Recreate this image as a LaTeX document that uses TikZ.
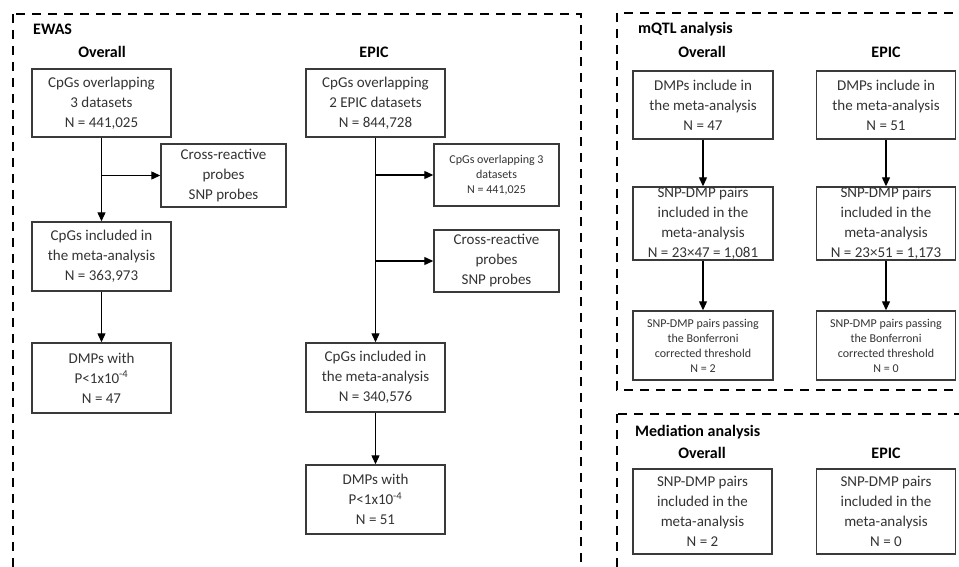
\documentclass[tikz,border=0pt]{standalone}
\usepackage{fontspec}
\setmainfont{Carlito}
\usetikzlibrary{arrows.meta}
\definecolor{boxgray}{HTML}{3A3A3A}
\definecolor{txtgray}{HTML}{333333}
\begin{document}
\begin{tikzpicture}[x=1pt,y=-1pt,
 box/.style={draw=boxgray, line width=1.4pt, text=txtgray, align=center, inner sep=0pt, font=\fontsize{15}{20}\selectfont},
 sbox/.style={box, font=\fontsize{12}{15}\selectfont},
 hdr/.style={font=\fontsize{16}{18}\selectfont\bfseries, text=black, inner sep=0pt},
 arr/.style={draw=black, line width=1.2pt, -{Triangle[length=9pt,width=8pt]}},
 dbox/.style={draw=black, line width=2.6pt, dash pattern=on 9pt off 7pt}]
\useasboundingbox (0,0) rectangle (959,567);
\begin{scope}
\clip (0,0) rectangle (959,567);
\draw[dbox] (13,14) rectangle (581,620);
\draw[dbox] (617,13) rectangle (1000,390);
\draw[dbox] (617,414) rectangle (1000,620);
\end{scope}

% EWAS
\node[hdr, anchor=west] (ewas) at (33,29) {EWAS};
\node[hdr] (hov) at (102,52) {Overall};
\node[hdr] (hep) at (374,52) {EPIC};

\node[box, minimum width=139, minimum height=68] (o1) at (101.5,103) {CpGs overlapping\\3 datasets\\N = 441,025};
\node[box, minimum width=125, minimum height=63] (o2) at (223.5,175.5) {Cross-reactive\\probes\\SNP probes};
\node[box, minimum width=139, minimum height=69] (o3) at (101.5,256.5) {CpGs included in\\the meta-analysis\\N = 363,973};
\node[box, minimum width=139, minimum height=70] (o4) at (101.5,378) {DMPs with\\P<1x10\textsuperscript{-4}\\N = 47};

\draw[arr] (o1.south) -- (o3.north);
\draw[arr] (o1.south |- o2.west) -- (o2.west);
\draw[arr] (o3.south) -- (o4.north);

\node[box, minimum width=139, minimum height=68] (e1) at (375.5,103) {CpGs overlapping\\2 EPIC datasets\\N = 844,728};
\node[sbox, minimum width=125, minimum height=62] (e2) at (496.5,175) {CpGs overlapping 3\\datasets\\N = 441,025};
\node[box, minimum width=125, minimum height=62] (e3) at (496.5,261) {Cross-reactive\\probes\\SNP probes};
\node[box, minimum width=139, minimum height=69] (e4) at (375.5,377.5) {CpGs included in\\the meta-analysis\\N = 340,576};
\node[box, minimum width=139, minimum height=69] (e5) at (375.5,499.5) {DMPs with\\P<1x10\textsuperscript{-4}\\N = 51};

\draw[arr] (e1.south) -- (e4.north);
\draw[arr] (e1.south |- e2.west) -- (e2.west);
\draw[arr] (e1.south |- e3.west) -- (e3.west);
\draw[arr] (e4.south) -- (e5.north);

% mQTL
\node[hdr, anchor=west] (mq) at (638,29) {mQTL analysis};
\node[hdr] (mqo) at (702,52) {Overall};
\node[hdr] (mqe) at (886,52) {EPIC};

\node[box, minimum width=140, minimum height=68] (m1) at (703,105) {DMPs include in\\the meta-analysis\\N = 47};
\node[box, minimum width=140, minimum height=73] (m2) at (703,223.5) {SNP-DMP pairs\\included in the\\meta-analysis\\N = 23×47 = 1,081};
\node[sbox, minimum width=140, minimum height=69] (m3) at (703,345.5) {SNP-DMP pairs passing\\the Bonferroni\\corrected threshold\\N = 2};
\draw[arr] (m1.south) -- (m2.north);
\draw[arr] (m2.south) -- (m3.north);

\node[box, minimum width=139, minimum height=68] (n1) at (886,105) {DMPs include in\\the meta-analysis\\N = 51};
\node[box, minimum width=139, minimum height=73] (n2) at (886,223.5) {SNP-DMP pairs\\included in the\\meta-analysis\\N = 23×51 = 1,173};
\node[sbox, minimum width=139, minimum height=69] (n3) at (886,345.5) {SNP-DMP pairs passing\\the Bonferroni\\corrected threshold\\N = 0};
\draw[arr] (n1.south) -- (n2.north);
\draw[arr] (n2.south) -- (n3.north);

% Mediation
\node[hdr, anchor=west] (md) at (635,432) {Mediation analysis};
\node[hdr] (mdo) at (702,453) {Overall};
\node[hdr] (mde) at (886,453) {EPIC};
\node[box, minimum width=139, minimum height=85] (d1) at (702.5,511.5) {SNP-DMP pairs\\included in the\\meta-analysis\\N = 2};
\node[box, minimum width=139, minimum height=85] (d2) at (886,511.5) {SNP-DMP pairs\\included in the\\meta-analysis\\N = 0};
\end{tikzpicture}
\end{document}
